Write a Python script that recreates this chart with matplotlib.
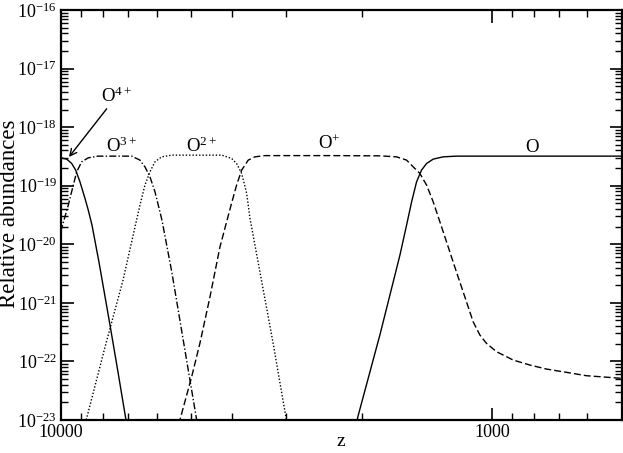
import matplotlib
matplotlib.use("Agg")
import matplotlib.pyplot as plt
from matplotlib.ticker import LogLocator, FixedLocator, FixedFormatter, NullFormatter
import numpy as np

plt.rcParams['font.family'] = ['Liberation Serif', 'DejaVu Serif']
plt.rcParams['mathtext.fontset'] = 'custom'
plt.rcParams['mathtext.rm'] = 'Liberation Serif'
plt.rcParams['mathtext.it'] = 'Liberation Serif:italic'
plt.rcParams['mathtext.bf'] = 'Liberation Serif:bold'

# ---- data (redshift z, log10 relative abundance) ----
z_o4 = [10000, 9700, 9445, 9245, 9036, 8797, 8644, 8474, 8163, 7696, 7374, 7066, 6917]
la_o4 = [-18.524, -18.546, -18.620, -18.734, -18.933, -19.217, -19.416, -19.672,
         -20.304, -21.379, -22.181, -23.0, -23.410]

z_o3 = [10216, 9963, 9618, 9364, 9196, 8954, 8644, 8194, 6854, 6558, 6385, 6216,
        6052, 5946, 5830, 5526, 5020, 4842, 4758]
la_o3 = [-19.997, -19.724, -19.331, -18.990, -18.763, -18.592, -18.524, -18.495,
         -18.495, -18.563, -18.678, -18.848, -19.104, -19.331, -19.587, -20.491,
         -22.317, -23.0, -23.341]

z_o2 = [8939, 8716, 7903, 7178, 6558, 6385, 6216, 6052, 5839, 5535, 4238, 4018,
        3912, 3808, 3708, 3643, 3453, 3222, 3006, 2943]
la_o2 = [-23.273, -22.966, -21.754, -20.611, -19.331, -18.990, -18.763, -18.592,
         -18.507, -18.478, -18.478, -18.534, -18.620, -18.790, -19.126, -19.553,
         -20.474, -21.669, -22.949, -23.222]

z_o1 = [5411, 5297, 4975, 4758, 4511, 4277, 4018, 3912, 3808, 3676, 3547, 3362,
        2376, 1819, 1664, 1577, 1522, 1469, 1417, 1368, 1320, 1274, 1230, 1187,
        1145, 1105, 1066, 1029, 975.2, 892.4, 816.5, 746.8, 671.2, 603.1, 500.0]
la_o1 = [-23.239, -23.0, -22.266, -21.686, -20.901, -20.048, -19.297, -18.990,
         -18.734, -18.563, -18.507, -18.486, -18.486, -18.490, -18.507, -18.563,
         -18.678, -18.790, -18.990, -19.275, -19.616, -19.957, -20.299, -20.640,
         -20.981, -21.322, -21.549, -21.691, -21.834, -21.976, -22.061, -22.130,
         -22.186, -22.244, -22.288]

z_o0 = [2078, 2046, 1888, 1819, 1724, 1634, 1577, 1535, 1495, 1456, 1417, 1368,
        1297, 1208, 500]
la_o0 = [-23.205, -22.944, -21.990, -21.549, -20.867, -20.184, -19.672, -19.275,
         -18.933, -18.734, -18.620, -18.546, -18.507, -18.495, -18.495]

x_ticks = [10000, 1000]
x_ticklabels = ["10000", "1000"]

# ---- figure ----
fig = plt.figure(figsize=(6.23, 4.53), dpi=100)
ax = fig.add_axes([61 / 623, 1 - 420 / 453, (621.5 - 61) / 623, (420 - 10) / 453])

def pw(v):
    return np.power(10.0, np.asarray(v, dtype=float))

lw = 1.0
ax.plot(z_o4, pw(la_o4), color='black', lw=lw, ls='-')
ax.plot(z_o3, pw(la_o3), color='black', lw=lw, dashes=(5, 1.6, 1.0, 1.6))
ax.plot(z_o2, pw(la_o2), color='black', lw=lw, dashes=(1, 1.4))
ax.plot(z_o1, pw(la_o1), color='black', lw=lw, dashes=(5, 2.2))
ax.plot(z_o0, pw(la_o0), color='black', lw=lw, ls='-')

ax.set_xscale('log')
ax.set_yscale('log')
ax.set_xlim(10000, 500)
ax.set_ylim(1e-23, 1e-16)

ax.xaxis.set_major_locator(FixedLocator(x_ticks))
ax.xaxis.set_major_formatter(FixedFormatter(x_ticklabels))
ax.xaxis.set_minor_locator(LogLocator(base=10, subs=np.arange(2, 10), numticks=20))
ax.xaxis.set_minor_formatter(NullFormatter())
ax.yaxis.set_major_locator(LogLocator(base=10, numticks=20))
ax.yaxis.set_minor_locator(LogLocator(base=10, subs=np.arange(2, 10), numticks=100))
ax.yaxis.set_minor_formatter(NullFormatter())

ax.tick_params(which='both', direction='in', top=True, right=True, colors='black')
ax.tick_params(which='major', length=9, width=1.2, labelsize=13, pad=3)
ax.tick_params(which='minor', length=5, width=1.0)
for s in ax.spines.values():
    s.set_linewidth(1.6)

ax.set_xlabel('z', fontsize=14, va='top')
ax.xaxis.set_label_coords(0.5, -0.032)
ax.set_ylabel('Relative abundances', fontsize=16.5, va='center')
ax.yaxis.set_label_coords(-0.0915, 0.502)

fs = 13.5
ax.annotate(r'O$^{4+}$', xy=(69, 453 - 157), xycoords='figure pixels',
            xytext=(101, 453 - 102), textcoords='figure pixels',
            fontsize=fs, ha='left', va='baseline',
            arrowprops=dict(arrowstyle='->', color='black', lw=1.0,
                            shrinkA=0, shrinkB=0, mutation_scale=12))
fig.text(106, 453 - 152, r'O$^{3+}$', transform=None, fontsize=fs, ha='left', va='baseline')
fig.text(186, 453 - 152, r'O$^{2+}$', transform=None, fontsize=fs, ha='left', va='baseline')
fig.text(318, 453 - 149, r'O$^{+}$', transform=None, fontsize=fs, ha='left', va='baseline')
fig.text(525, 453 - 152, r'O', transform=None, fontsize=fs, ha='left', va='baseline')

fig.savefig('out.png', dpi=100)
